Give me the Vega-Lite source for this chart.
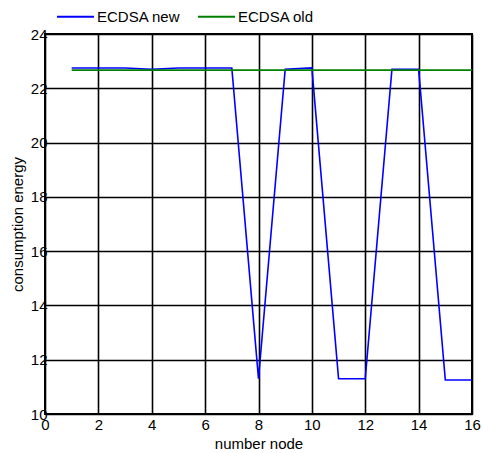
{
  "$schema": "https://vega.github.io/schema/vega-lite/v6.json",
  "autosize": "none",
  "width": 427,
  "height": 380,
  "padding": {"left": 45, "top": 34, "right": 11, "bottom": 39},
  "background": "white",
  "config": {
    "font": "Liberation Sans",
    "view": {"stroke": "black", "strokeWidth": 2}
  },
  "data": {
    "values": [
      {"node": 1, "series": "ECDSA new", "energy": 22.75},
      {"node": 2, "series": "ECDSA new", "energy": 22.75},
      {"node": 3, "series": "ECDSA new", "energy": 22.75},
      {"node": 4, "series": "ECDSA new", "energy": 22.7},
      {"node": 5, "series": "ECDSA new", "energy": 22.75},
      {"node": 6, "series": "ECDSA new", "energy": 22.75},
      {"node": 7, "series": "ECDSA new", "energy": 22.75},
      {"node": 8, "series": "ECDSA new", "energy": 11.3},
      {"node": 9, "series": "ECDSA new", "energy": 22.7},
      {"node": 10, "series": "ECDSA new", "energy": 22.75},
      {"node": 11, "series": "ECDSA new", "energy": 11.3},
      {"node": 12, "series": "ECDSA new", "energy": 11.3},
      {"node": 13, "series": "ECDSA new", "energy": 22.7},
      {"node": 14, "series": "ECDSA new", "energy": 22.7},
      {"node": 15, "series": "ECDSA new", "energy": 11.25},
      {"node": 16, "series": "ECDSA new", "energy": 11.25},
      {"node": 1, "series": "ECDSA old", "energy": 22.67},
      {"node": 2, "series": "ECDSA old", "energy": 22.67},
      {"node": 3, "series": "ECDSA old", "energy": 22.67},
      {"node": 4, "series": "ECDSA old", "energy": 22.67},
      {"node": 5, "series": "ECDSA old", "energy": 22.67},
      {"node": 6, "series": "ECDSA old", "energy": 22.67},
      {"node": 7, "series": "ECDSA old", "energy": 22.67},
      {"node": 8, "series": "ECDSA old", "energy": 22.67},
      {"node": 9, "series": "ECDSA old", "energy": 22.67},
      {"node": 10, "series": "ECDSA old", "energy": 22.67},
      {"node": 11, "series": "ECDSA old", "energy": 22.67},
      {"node": 12, "series": "ECDSA old", "energy": 22.67},
      {"node": 13, "series": "ECDSA old", "energy": 22.67},
      {"node": 14, "series": "ECDSA old", "energy": 22.67},
      {"node": 15, "series": "ECDSA old", "energy": 22.67},
      {"node": 16, "series": "ECDSA old", "energy": 22.67}
    ]
  },
  "mark": {"type": "line", "strokeWidth": 1.6},
  "encoding": {
    "x": {
      "field": "node", "type": "quantitative",
      "scale": {"domain": [0, 16], "nice": false, "zero": false},
      "axis": {
        "title": "number node", "values": [0, 2, 4, 6, 8, 10, 12, 14, 16],
        "grid": true, "gridColor": "black", "gridOpacity": 1, "gridWidth": 1.6,
        "domain": false, "ticks": false, "labelPadding": 3,
        "labelFontSize": 15, "labelColor": "black", "labelFont": "Liberation Sans",
        "titleFontSize": 15, "titleFontWeight": "normal", "titleColor": "black", "titlePadding": 4,
        "titleFont": "Liberation Sans", "labelFlush": false
      }
    },
    "y": {
      "field": "energy", "type": "quantitative",
      "scale": {"domain": [10, 24], "nice": false, "zero": false},
      "axis": {
        "title": "consumption energy", "values": [10, 12, 14, 16, 18, 20, 22, 24],
        "grid": true, "gridColor": "black", "gridOpacity": 1, "gridWidth": 1.6,
        "domain": false, "ticks": false, "labelPadding": -2,
        "labelFontSize": 15, "labelColor": "black", "labelFont": "Liberation Sans",
        "titleFontSize": 15, "titleFontWeight": "normal", "titleColor": "black", "titlePadding": 5,
        "titleFont": "Liberation Sans", "labelFlush": false
      }
    },
    "color": {
      "field": "series", "type": "nominal",
      "scale": {"domain": ["ECDSA new", "ECDSA old"], "range": ["#0000ff", "#008000"]},
      "legend": {
        "title": null, "orient": "none", "direction": "horizontal",
        "legendX": 11, "legendY": -37,
        "symbolType": "stroke", "symbolSize": 1369, "symbolStrokeWidth": 2,
        "labelFontSize": 15, "labelColor": "black", "labelFont": "Liberation Sans",
        "labelOffset": 2, "columnPadding": 13
      }
    }
  }
}
